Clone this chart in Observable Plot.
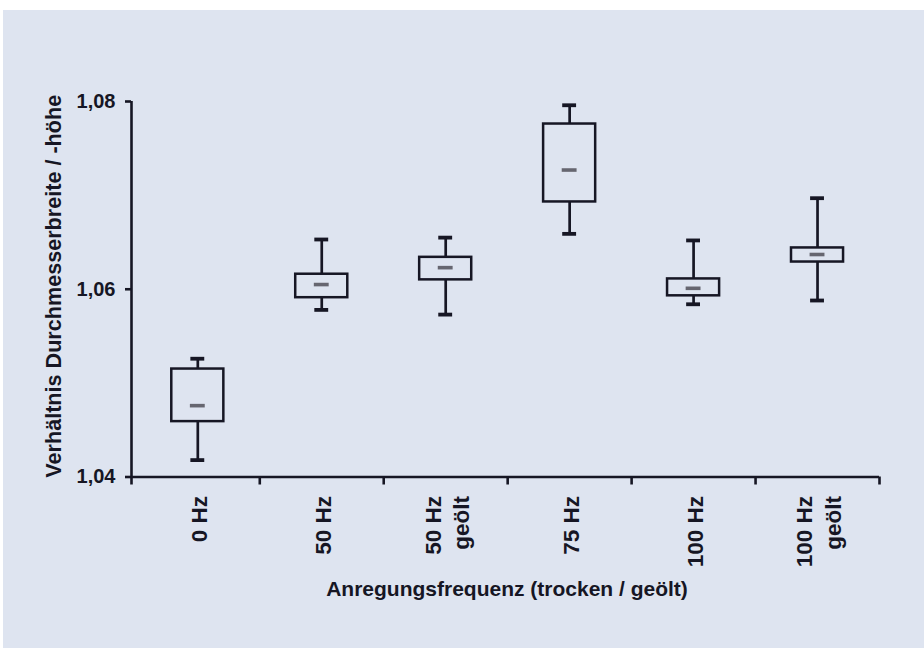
<!DOCTYPE html>
<html>
<head>
<meta charset="utf-8">
<script src="https://cdn.jsdelivr.net/npm/d3@7"></script>
<script src="https://cdn.jsdelivr.net/npm/@observablehq/plot@0.6"></script>
<style>
  html, body { margin: 0; padding: 0; background: #ffffff; }
  #wrap { position: absolute; left: 3px; top: 10px; width: 921px; height: 638px; background: #dee4f0; }
</style>
</head>
<body>
<div id="wrap"></div>
<script>
// Categories (x) — "\n" splits a two-line label
const categories = ["0 Hz", "50 Hz", "50 Hz\ngeölt", "75 Hz", "100 Hz", "100 Hz\ngeölt"];
// Box-plot statistics
const whiskerLow  = [1.0418, 1.0578, 1.0573, 1.0659, 1.0584, 1.0588];
const q1          = [1.0459, 1.0591, 1.0610, 1.0693, 1.0593, 1.0629];
const median      = [1.0476, 1.0605, 1.0623, 1.0727, 1.0601, 1.0637];
const q3          = [1.0515, 1.0616, 1.0634, 1.0776, 1.0611, 1.0644];
const whiskerHigh = [1.0526, 1.0653, 1.0655, 1.0796, 1.0652, 1.0697];
// Axis ticks
const yTicks = [1.04, 1.06, 1.08];
const yTitle = "Verhältnis Durchmesserbreite / -höhe";
const xTitle = "Anregungsfrequenz (trocken / geölt)";

const data = categories.map((c, i) => ({
  label: c, pos: i + 0.5,
  low: whiskerLow[i], q1: q1[i], med: median[i], q3: q3[i], high: whiskerHigh[i]
}));

const xStart = -0.035, xEnd = categories.length;
const boxHalf = 0.21, capHalf = 0.056, medHalf = 0.06;
const ink = "#161624";

const chart = Plot.plot({
  width: 921,
  height: 638,
  marginLeft: 128,
  marginRight: 45,
  marginTop: 91,
  marginBottom: 171.5,
  style: {
    background: "transparent",
    fontFamily: "'Liberation Sans', Arial, sans-serif",
    fontWeight: "bold",
    fontSize: "21px",
    color: ink
  },
  x: { type: "linear", domain: [xStart, xEnd] },
  y: { domain: [1.04, 1.08] },
  marks: [
    Plot.axisY({
      ticks: yTicks, tickSize: 6, tickPadding: 10, strokeWidth: 2.6,
      tickFormat: d => d.toFixed(2).replace(".", ","), label: null, fontSize: 20
    }),
    Plot.axisX({
      ticks: [xStart, 1, 2, 3, 4, 5, 6], tickSize: 8, strokeWidth: 2.6,
      tickFormat: () => "", label: null
    }),
    Plot.ruleX([xStart], { stroke: ink, strokeWidth: 2.6 }),
    Plot.ruleY([1.04], { stroke: ink, strokeWidth: 2.6 }),
    // whiskers
    Plot.ruleX(data, { x: "pos", y1: "low", y2: "q1", stroke: ink, strokeWidth: 2.7 }),
    Plot.ruleX(data, { x: "pos", y1: "q3", y2: "high", stroke: ink, strokeWidth: 2.7 }),
    // caps
    Plot.ruleY(data, { y: "low", x1: d => d.pos - capHalf, x2: d => d.pos + capHalf, stroke: ink, strokeWidth: 3.8 }),
    Plot.ruleY(data, { y: "high", x1: d => d.pos - capHalf, x2: d => d.pos + capHalf, stroke: ink, strokeWidth: 3.8 }),
    // boxes
    Plot.rect(data, { x1: d => d.pos - boxHalf, x2: d => d.pos + boxHalf, y1: "q1", y2: "q3",
      fill: "none", stroke: ink, strokeWidth: 2.5 }),
    // medians
    Plot.ruleY(data, { y: "med", x1: d => d.pos - medHalf, x2: d => d.pos + medHalf, stroke: "#666670", strokeWidth: 3.6 }),
    // x tick labels (rotated)
    Plot.text(data, { x: "pos", y: () => 1.04, text: "label", rotate: -90, textAnchor: "end",
      lineAnchor: "middle", lineHeight: 1.28, dy: 19, fill: ink, fontSize: 22.5 }),
    // axis titles
    Plot.text([xTitle], { frameAnchor: "bottom", textAnchor: "middle", dx: 1.5, dy: 118.5, fill: ink, fontSize: 21 }),
    Plot.text([yTitle], { frameAnchor: "left", textAnchor: "middle", rotate: -90, dx: -77, dy: -3, fill: ink, fontSize: 21.6 })
  ]
});

document.getElementById("wrap").appendChild(chart);
</script>
</body>
</html>
